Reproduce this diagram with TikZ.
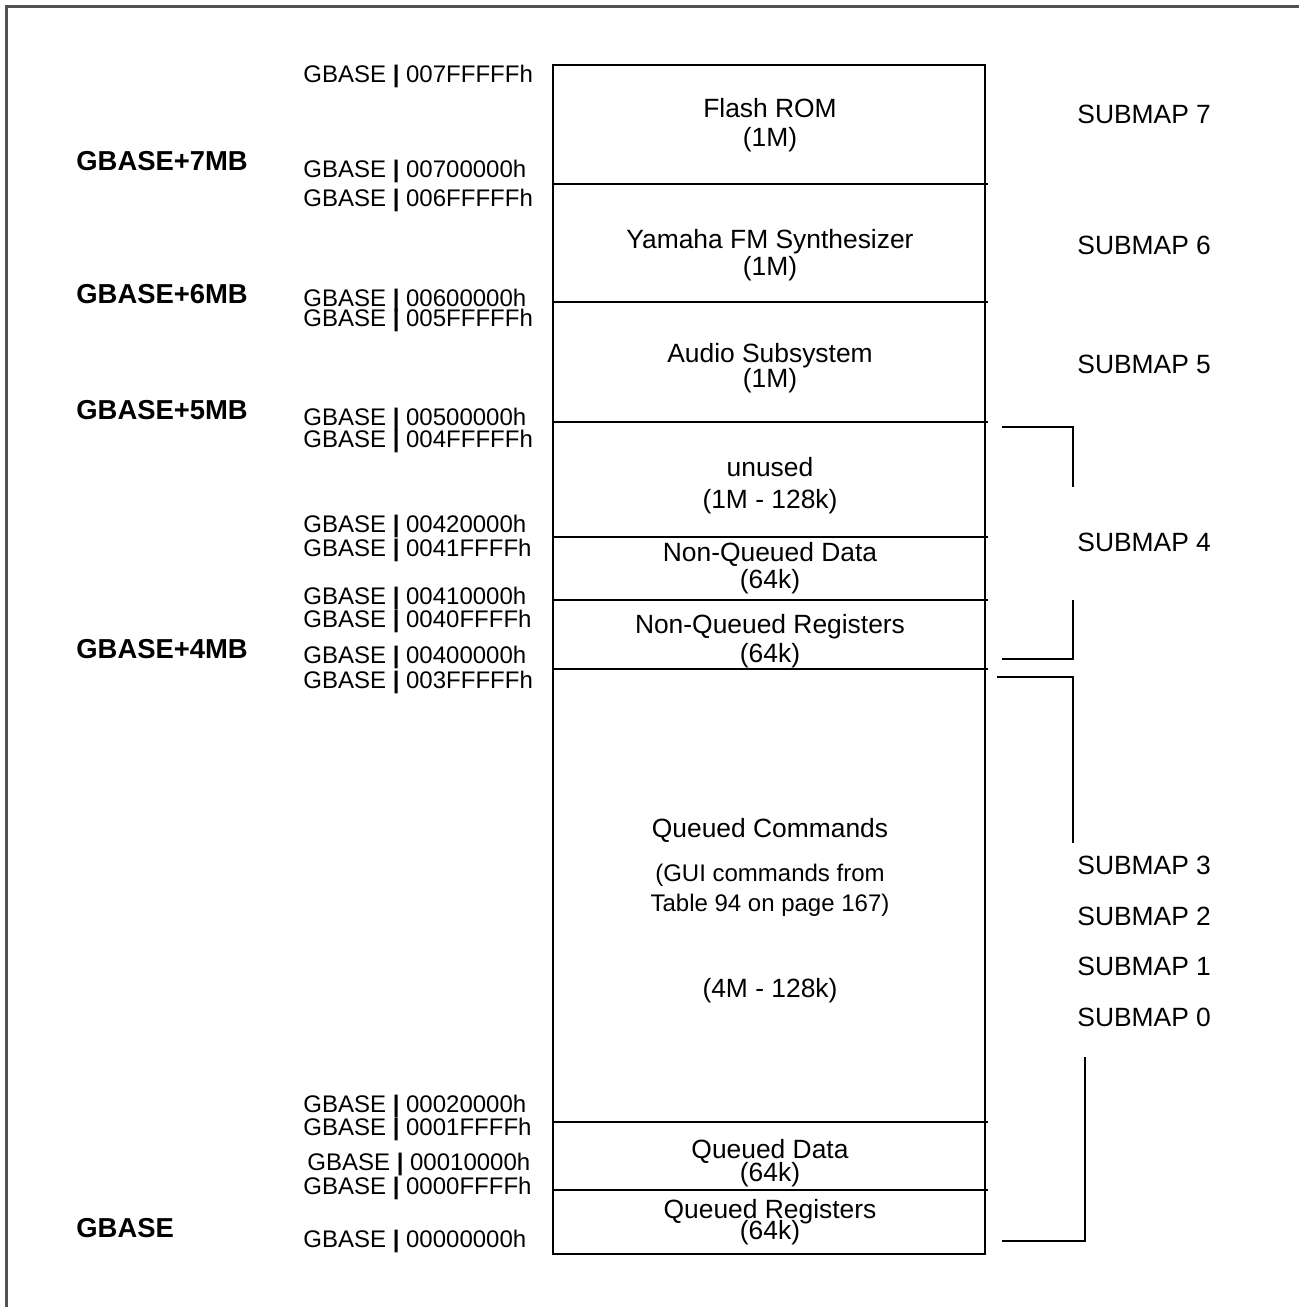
\documentclass[tikz,border=0pt]{standalone}
\usepackage{fontspec}
\setmainfont{Liberation Sans}
\begin{document}
\begin{tikzpicture}[x=0.5pt,y=-0.5pt,
  lbl/.style={inner sep=0pt, text height=0.716em, text depth=0pt},
  addr/.style={lbl, anchor=west, font=\fontsize{12}{13}\selectfont},
  region/.style={lbl, anchor=center, font=\fontsize{13.2}{14}\selectfont},
  gbase/.style={lbl, anchor=west, font=\bfseries\fontsize{13.7}{14}\selectfont},
  submap/.style={lbl, anchor=west, font=\fontsize{13.2}{14}\selectfont},
  rule/.style={line width=0.8pt},
  bracket/.style={line width=0.8pt},
  frame/.style={draw=black!68, line width=1.5pt}]

\useasboundingbox (0,0) rectangle (1299,1307);

% page frame (top and left edges only)
\draw[frame] (6,1307) -- (6,6) -- (1299,6);

% memory map column
\coordinate (mtl) at (553,65);
\coordinate (mbr) at (985,1254);
\draw[rule] (mtl) rectangle (mbr);
\foreach \yy in {184,302,422,537,600,669,1122,1190}
  \draw[rule] (553,\yy) -- (988,\yy);

% region labels
\node[region] (r7a) at (770,110) {Flash ROM};
\node[region] (r7b) at (770,139) {(1M)};
\node[region] (r6a) at (770,241) {Yamaha FM Synthesizer};
\node[region] (r6b) at (770,268) {(1M)};
\node[region] (r5a) at (770,355) {Audio Subsystem};
\node[region] (r5b) at (770,380) {(1M)};
\node[region] (r4a) at (770,469) {unused};
\node[region] (r4b) at (770,501) {(1M - 128k)};
\node[region] (r4c) at (770,554) {Non-Queued Data};
\node[region] (r4d) at (770,581) {(64k)};
\node[region] (r4e) at (770,626) {Non-Queued Registers};
\node[region] (r4f) at (770,655) {(64k)};
\node[region] (qca) at (770,830) {Queued Commands};
\node[region, font=\fontsize{12}{13}\selectfont] (qcb) at (770,874) {(GUI commands from};
\node[region, font=\fontsize{12}{13}\selectfont] (qcc) at (770,904) {Table 94 on page 167)};
\node[region] (qcd) at (770,990) {(4M - 128k)};
\node[region] (qda) at (770,1151) {Queued Data};
\node[region] (qdb) at (770,1174) {(64k)};
\node[region] (qra) at (770,1211) {Queued Registers};
\node[region] (qrb) at (770,1232) {(64k)};

% address labels
\newcommand{\gaddr}[1]{GBASE {\bfseries|} #1}
\node[addr] (a01) at (303,75)   {\gaddr{007FFFFFh}};
\node[addr] (a02) at (303,170)  {\gaddr{00700000h}};
\node[addr] (a03) at (303,199)  {\gaddr{006FFFFFh}};
\node[addr] (a04) at (303,299)  {\gaddr{00600000h}};
\node[addr] (a05) at (303,319)  {\gaddr{005FFFFFh}};
\node[addr] (a06) at (303,418)  {\gaddr{00500000h}};
\node[addr] (a07) at (303,440)  {\gaddr{004FFFFFh}};
\node[addr] (a08) at (303,525)  {\gaddr{00420000h}};
\node[addr] (a09) at (303,549)  {\gaddr{0041FFFFh}};
\node[addr] (a10) at (303,597)  {\gaddr{00410000h}};
\node[addr] (a11) at (303,620)  {\gaddr{0040FFFFh}};
\node[addr] (a12) at (303,656)  {\gaddr{00400000h}};
\node[addr] (a13) at (303,681)  {\gaddr{003FFFFFh}};
\node[addr] (a14) at (303,1105) {\gaddr{00020000h}};
\node[addr] (a15) at (303,1128) {\gaddr{0001FFFFh}};
\node[addr] (a16) at (307,1163) {\gaddr{00010000h}};
\node[addr] (a17) at (303,1187) {\gaddr{0000FFFFh}};
\node[addr] (a18) at (303,1240) {\gaddr{00000000h}};

% base offsets
\node[gbase] (g7) at (76,163)  {GBASE+7MB};
\node[gbase] (g6) at (76,296)  {GBASE+6MB};
\node[gbase] (g5) at (76,412)  {GBASE+5MB};
\node[gbase] (g4) at (76,651)  {GBASE+4MB};
\node[gbase] (g0) at (76,1230) {GBASE};

% submap labels
\node[submap] (s7) at (1077,116)  {SUBMAP 7};
\node[submap] (s6) at (1077,247)  {SUBMAP 6};
\node[submap] (s5) at (1077,366)  {SUBMAP 5};
\node[submap] (s4) at (1077,544)  {SUBMAP 4};
\node[submap] (s3) at (1077,867)  {SUBMAP 3};
\node[submap] (s2) at (1077,918)  {SUBMAP 2};
\node[submap] (s1) at (1077,968)  {SUBMAP 1};
\node[submap] (s0) at (1077,1019) {SUBMAP 0};

% bracket for SUBMAP 4
\coordinate (b4a) at (1002,427);
\coordinate (b4b) at (1073,487);
\coordinate (b4c) at (1073,600);
\coordinate (b4d) at (1002,659);
\draw[bracket] (b4a) -| (b4b);
\draw[bracket] (b4c) |- (b4d);

% bracket for SUBMAP 3 .. 0
\coordinate (b0a) at (997,677);
\coordinate (b0b) at (1073,843);
\coordinate (b0c) at (1085,1057);
\coordinate (b0d) at (1002,1241);
\draw[bracket] (b0a) -| (b0b);
\draw[bracket] (b0c) |- (b0d);
\end{tikzpicture}
\end{document}
